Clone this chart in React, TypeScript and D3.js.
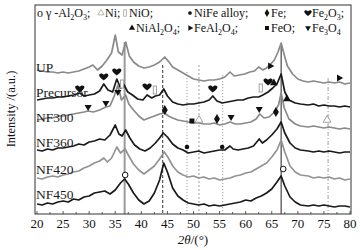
import React from 'react';
import * as d3 from 'd3';

// sample order, top to bottom
const samples = ['UP', 'Precursor', 'NF300', 'NF360', 'NF420', 'NF450'];
const offsets = [130, 108, 86, 62, 34, 7];
const labelAt = [142, 117, 92, 67, 40, 15];
const tones = ['#8a8a8a', '#1a1a1a', '#8a8a8a', '#1a1a1a', '#939393', '#1a1a1a'];

const xTicks = [20, 25, 30, 35, 40, 45, 50, 55, 60, 65, 70, 75, 80];

// [2theta, intensity]
const upData: [number, number][] = [
  [20, 14], [21, 13], [22, 12], [23, 12], [24, 11], [25, 12], [26, 11], [27, 12], [28, 13], [29, 15],
  [30, 17], [30.7, 19], [31.6, 14], [32.5, 18], [33.4, 24], [34.3, 31], [35, 49], [35.6, 32], [36.3, 29],
  [37, 42], [37.7, 28], [38.5, 22], [39.5, 18], [40.5, 16], [41.5, 17], [42.5, 19], [43.5, 22], [44.5, 27],
  [45.3, 22], [46, 17], [47, 14], [48, 11], [49, 8], [50, 5], [51, 4], [52, 3], [53, 4], [54, 4], [55, 5],
  [56, 7], [57, 12], [57.8, 8], [58.8, 9], [59.8, 10], [60.8, 12], [61.7, 13], [62.5, 17], [63.3, 14],
  [64, 16], [64.8, 20], [65.5, 24], [66.2, 32], [66.8, 41], [67.4, 29], [68, 18], [69, 10], [70, 5],
  [71, 3], [72, 2], [73, 3], [74, 2], [75, 1], [76, 2], [77, 1], [78, 2], [79, 0], [80, 1],
];
const precursorData: [number, number][] = [
  [20, 6], [21, 7], [22, 8], [23, 8], [24, 9], [25, 9], [26, 10], [27, 11], [28.2, 13], [29, 10],
  [30, 11], [31, 12], [32, 15], [32.8, 22], [33.6, 16], [34.5, 14], [35.3, 27], [36, 18], [36.7, 21],
  [37.4, 14], [38.3, 11], [39.3, 7], [40.3, 6], [41.1, 11], [42, 8], [42.7, 10], [43.5, 11], [44.3, 17],
  [45, 10], [46, 4], [47, 2], [48, 1], [49, 2], [50, 2], [51, 3], [52, 4], [53, 6], [53.7, 10], [54.5, 5],
  [55.5, 3], [56.5, 4], [57.5, 5], [58.5, 6], [59.5, 6], [60.5, 8], [61.5, 9], [62.5, 9], [63.3, 11],
  [64.3, 14], [65.2, 18], [66, 22], [66.8, 32], [67.5, 14], [68.3, 6], [69.5, 3], [70.5, 2], [72, 1],
  [73, 2], [74, 0], [75, 1], [76, 0], [77, 0], [78, -1], [79, 0], [80, -1],
];
const nf300Data: [number, number][] = [
  [20, 8], [21, 9], [22, 10], [23, 10], [24, 12], [25, 12], [26, 13], [27, 14], [28, 15], [29, 16],
  [29.8, 17], [30.8, 16], [32, 18], [33.2, 21], [34, 22], [34.8, 32], [35.5, 43], [36.2, 28], [37, 33],
  [37.6, 24], [38.5, 18], [39.5, 12], [40.5, 8], [41.5, 10], [42.5, 12], [43.5, 14], [44.4, 15], [45.2, 12],
  [46, 10], [47, 8], [48, 7], [49, 6], [50, 5], [51, 5], [52, 4], [53, 4], [54, 5], [55, 3], [56, 4],
  [57, 6], [58, 4], [59, 4], [60, 5], [61, 6], [62, 9], [62.7, 14], [63.5, 10], [64.5, 11], [65.5, 16],
  [66.3, 23], [66.8, 35], [67.4, 20], [68.3, 9], [69.5, 4], [70.5, 2], [72, 1], [73, 2], [74, 1], [75, 0],
  [76, 1], [77, 0], [78, -1], [79, 0], [80, -1],
];
const nf360Data: [number, number][] = [
  [20, 2], [21, 1], [22, 3], [23, 2], [24, 4], [25, 4], [26, 5], [27, 6], [28, 8], [29, 7], [30, 10],
  [31, 11], [32, 13], [33, 12], [34, 17], [35, 27], [35.7, 18], [36.3, 16], [37, 22], [37.8, 14],
  [38.7, 7], [39.7, 3], [40.7, 1], [41.7, 4], [42.7, 9], [43.5, 14], [44.2, 19], [45, 15], [46, 8],
  [47, 4], [48, 2], [49, -1], [50, 0], [51, 1], [52, -1], [53, 0], [54, 1], [55, 2], [56, 2], [57, 6],
  [57.6, 3], [58.5, 2], [59.5, 3], [60.5, 4], [61.5, 6], [62.6, 13], [63.2, 9], [64, 12], [65, 17],
  [66, 23], [66.8, 30], [67.5, 19], [68.5, 9], [69.5, 4], [70.5, 2], [72, 1], [73, 0], [74, 1], [75, 0],
  [76, 1], [77, 0], [78, -1], [79, 0], [80, 0],
];
const nf420Data: [number, number][] = [
  [20, 2], [21, 1], [22, 3], [23, 4], [24, 3], [25, 5], [26, 6], [27, 8], [28, 9], [29, 12], [30, 14],
  [31, 17], [32, 19], [32.8, 22], [33.5, 18], [34.3, 22], [35.3, 33], [36, 27], [36.9, 31], [37.6, 24],
  [38.5, 16], [39.5, 10], [40.5, 6], [41.5, 10], [42.5, 14], [43.5, 21], [44.4, 28], [45.2, 22], [46, 14],
  [47, 8], [48, 5], [49, 3], [50, 4], [51, 2], [52, 3], [53, 1], [54, 2], [55, 0], [56, 1], [57, 2],
  [58, 4], [59, 5], [60, 7], [61, 8], [62, 11], [63, 14], [64, 17], [65, 23], [66, 30], [66.8, 40],
  [67.5, 28], [68.5, 14], [69.5, 8], [70.5, 5], [72, 4], [73, 2], [74, 3], [75, 2], [76, 3], [77, 1],
  [78, 2], [79, 0], [80, 1],
];
const nf450Data: [number, number][] = [
  [20, 3], [21, 2], [22, 4], [23, 3], [24, 5], [25, 6], [26, 5], [27, 8], [28, 7], [29, 10], [30, 11],
  [31, 14], [32, 15], [33, 16], [34, 13], [35, 17], [36, 24], [36.8, 28], [37.5, 23], [38.5, 14],
  [39.5, 7], [40.5, 3], [41.5, 6], [42.5, 14], [43.5, 27], [44.3, 44], [45, 35], [46, 19], [47, 11],
  [48, 7], [49, 4], [50, 3], [51, 2], [52, 3], [53, 1], [54, 2], [55, 1], [56, 2], [57, 3], [58, 4],
  [59, 5], [60, 7], [61, 6], [62, 9], [63, 11], [64, 14], [65, 18], [66, 25], [66.8, 31], [67.5, 21],
  [68.5, 10], [69.5, 5], [70.5, 2], [72, 1], [73, 2], [74, 1], [75, 2], [76, 1], [77, 0], [78, 1],
  [79, 1], [80, 0],
];
const patterns = [upData, precursorData, nf300Data, nf360Data, nf420Data, nf450Data];

// reference lines: [2theta, top intensity, style]
const refLines: [number, number, string][] = [
  [36.8, 172, 'grayThick'],
  [44.1, 149, 'blackDash'],
  [48.75, 142, 'grayDot'],
  [51.05, 149, 'grayDash'],
  [55.6, 139, 'grayDot'],
  [66.8, 169, 'black'],
  [75.8, 136, 'grayDashDot'],
];

// phase markers: [phase, 2theta, intensity]
const markers: [string, number, number][] = [
  ['Fe2O3', 28.2, 125], ['Fe2O3', 32.8, 137], ['Fe2O3', 35.3, 142], ['Fe3O4', 35.5, 122],
  ['NiO', 36.3, 130], ['Fe2O3', 41.1, 127], ['NiO', 42.6, 124], ['Fe2O3', 53.7, 125],
  ['NiO', 62.9, 126], ['Fe2O3', 64.3, 132], ['NiAl2O4', 65.4, 131], ['NiAl2O4', 67.9, 115],
  ['FeAl2O4', 64.7, 148], ['FeAl2O4', 77.9, 136],
  ['Fe3O4', 29.8, 107], ['Fe3O4', 33.2, 111], ['Fe', 44.5, 104], ['FeO', 49.7, 93], ['Ni', 51.05, 94],
  ['Fe', 54.5, 95], ['Fe3O4', 57.2, 97], ['Fe3O4', 62.6, 105], ['Fe', 65.8, 102], ['Ni', 75.6, 94],
  ['NiFe', 48.75, 67], ['NiFe', 55.5, 67],
  ['Al2O3', 36.9, 39], ['Al2O3', 67.2, 45],
];

const legendItems: [string, string][] = [
  ['Al2O3', 'γ -Al_2O_3;'], ['Ni', 'Ni;'], ['NiO', 'NiO;'], ['NiAl2O4', 'NiAl_2O_4;'],
  ['NiFe', 'NiFe alloy;'], ['FeAl2O4', 'FeAl_2O_4;'], ['Fe', 'Fe;'], ['FeO', 'FeO;'],
  ['Fe2O3', 'Fe_2O_3;'], ['Fe3O4', 'Fe_3O_4'],
];
const legendSpots: [number, number][] = [
  [40, 17], [101, 17], [125, 17], [132, 32], [190, 17], [190, 32], [267, 17], [267, 32], [308, 17], [308, 32],
];

const font = '"Liberation Serif", "Times New Roman", serif';
const heart = 'M0,3.6 C-1,2.6 -4.6,0.2 -4.6,-1.7 C-4.6,-3.6 -2.2,-4.3 0,-2.2 C2.2,-4.3 4.6,-3.6 4.6,-1.7 C4.6,0.2 1,2.6 0,3.6 Z';

function Glyph({ kind, x, y, k = 1 }: { kind: string; x: number; y: number; k?: number }) {
  const t = `translate(${x},${y}) scale(${k})`;
  const sym = (type: d3.SymbolType, size: number) => d3.symbol(type, size)() || '';
  switch (kind) {
    case 'Al2O3':
      return <circle cx={x} cy={y} r={2.8 * k} fill="#fff" stroke="#111" strokeWidth={1} />;
    case 'Ni':
      return <path transform={t} d={sym(d3.symbolTriangle, 26)} fill="#fff" stroke="#999" strokeWidth={0.9} />;
    case 'NiO':
      return <rect transform={t} x={-1.6} y={-4} width={3.2} height={8} fill="#fff" stroke="#999" strokeWidth={0.9} />;
    case 'NiAl2O4':
      return <path transform={t} d={sym(d3.symbolTriangle, 26)} fill="#111" />;
    case 'NiFe':
      return <circle cx={x} cy={y} r={2.3 * k} fill="#111" />;
    case 'FeAl2O4':
      return <path transform={`${t} rotate(90)`} d={sym(d3.symbolTriangle, 22)} fill="#111" />;
    case 'Fe':
      return <path transform={t} d={sym(d3.symbolDiamond, 30)} fill="#111" />;
    case 'FeO':
      return <rect transform={t} x={-2.5} y={-2.5} width={5} height={5} fill="#111" />;
    case 'Fe2O3':
      return <path transform={t} d={heart} fill="#111" />;
    case 'Fe3O4':
      return <path transform={`${t} rotate(180)`} d={sym(d3.symbolTriangle, 22)} fill="#111" />;
    default:
      return null;
  }
}

function Chem({ text }: { text: string }) {
  const parts = text.split(/_(\d)/);
  return (
    <>
      {parts.map((p, i) =>
        i % 2 === 1 ? (
          <tspan key={i} fontSize={8} dy={3}>{p}</tspan>
        ) : (
          <tspan key={i} dy={i > 0 ? -3 : 0}>{p}</tspan>
        )
      )}
    </>
  );
}

const lineStyles: Record<string, { stroke: string; width: number; dash?: string }> = {
  grayThick: { stroke: '#9a9a9a', width: 2 },
  blackDash: { stroke: '#333', width: 1, dash: '3,2' },
  grayDot: { stroke: '#a0a0a0', width: 1, dash: '1.2,1.8' },
  grayDash: { stroke: '#a0a0a0', width: 1, dash: '2,2' },
  black: { stroke: '#222', width: 1 },
  grayDashDot: { stroke: '#a0a0a0', width: 1, dash: '4,2,1,2' },
};

export default function App() {
  const width = 360;
  const height = 250;
  const frame = { left: 35, right: 351, top: 5, bottom: 214 };

  const x = d3.scaleLinear().domain([20, 80]).range([37, 350]);
  const y = d3.scaleLinear().domain([0, 209]).range([frame.bottom, frame.top]);

  const minorTicks = d3.range(20, 80.01, 2.5);

  return (
    <svg
      width={width}
      height={height}
      style={{ position: 'absolute', left: 0, top: 0, background: '#fff' }}
      fontFamily={font}
    >
      <rect x={0} y={0} width={width} height={height} fill="#fff" />

      {refLines.map(([at, top, kind], i) => {
        const s = lineStyles[kind];
        return (
          <line
            key={i}
            x1={x(at)}
            x2={x(at)}
            y1={y(top)}
            y2={frame.bottom}
            stroke={s.stroke}
            strokeWidth={s.width}
            strokeDasharray={s.dash}
          />
        );
      })}

      {patterns.map((pts, i) => {
        const line = d3
          .line<[number, number]>()
          .x((d) => x(d[0]))
          .y((d) => y(d[1] + offsets[i]));
        return (
          <path key={samples[i]} d={line(pts) || ''} fill="none" stroke={tones[i]} strokeWidth={1.7} strokeLinejoin="round" />
        );
      })}

      {samples.map((s, i) => (
        <text key={s} x={36} y={y(labelAt[i])} fontSize={13.5} fill="#1a1a1a">
          {s}
        </text>
      ))}

      {markers.map(([kind, at, v], i) => (
        <Glyph key={i} kind={kind} x={x(at)} y={y(v)} />
      ))}

      {/* legend */}
      {legendItems.map(([kind, label], i) => {
        const [lx, ly] = legendSpots[i];
        if (kind === 'Al2O3') {
          return (
            <text key={kind} x={37} y={ly} fontSize={12} fill="#111">
              <tspan>o </tspan>
              <Chem text={label} />
            </text>
          );
        }
        return (
          <g key={kind}>
            <Glyph kind={kind} x={lx} y={ly - 4} k={0.8} />
            <text x={lx + 4} y={ly} fontSize={12} fill="#111">
              <Chem text={label} />
            </text>
          </g>
        );
      })}

      <rect
        x={frame.left}
        y={frame.top}
        width={frame.right - frame.left}
        height={frame.bottom - frame.top}
        fill="none"
        stroke="#333"
        strokeWidth={1}
      />

      {minorTicks.map((t) => (
        <line key={t} x1={x(t)} x2={x(t)} y1={frame.bottom} y2={frame.bottom - (t % 5 === 0 ? 3 : 2)} stroke="#333" strokeWidth={0.8} />
      ))}
      {xTicks.map((t) => (
        <text key={t} x={x(t)} y={frame.bottom + 14} fontSize={13} textAnchor="middle" fill="#111">
          {t}
        </text>
      ))}

      <text x={193} y={244} fontSize={13} textAnchor="middle" fill="#111">
        <tspan fontStyle="italic">2θ</tspan>/(°)
      </text>
      <text
        transform={`translate(15,${y(105)}) rotate(-90)`}
        fontSize={12.5}
        textAnchor="middle"
        fill="#111"
      >
        Intensity /(a.u.)
      </text>
    </svg>
  );
}
